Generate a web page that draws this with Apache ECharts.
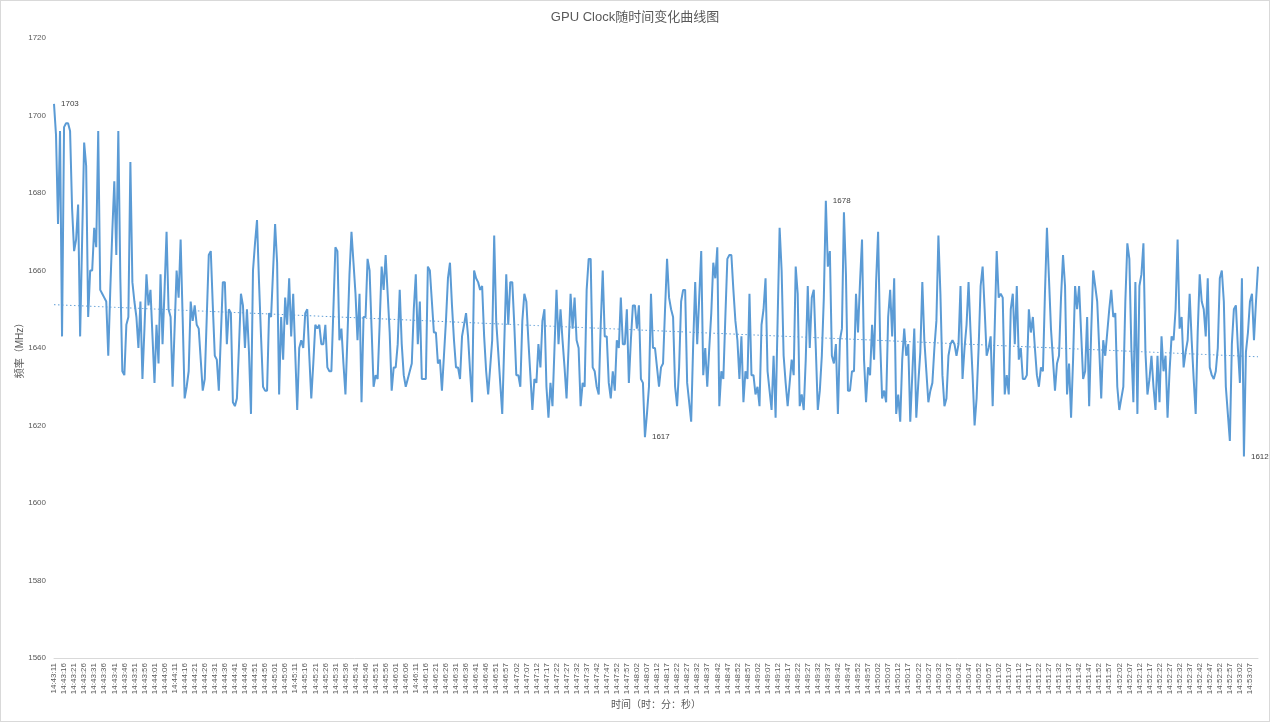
<!DOCTYPE html>
<html>
<head>
<meta charset="utf-8">
<script src="https://cdn.jsdelivr.net/npm/echarts@6/dist/echarts.min.js"></script>
<style>
html,body{margin:0;padding:0;background:#fff;}
#chart{width:1270px;height:722px;outline:1px solid #d9d9d9;outline-offset:-1px;}
</style>
</head>
<body>
<div id="chart"></div>
<script>
// ---- data ----
const titleText = 'GPU Clock随时间变化曲线图';
const yAxisName = '频率（MHz）';
const xAxisName = '时间（时：分：秒）';
const startTime = '14:43:11';
const skippedSecondAtIndex = 223; // one missing second in the log (14:46:54)
const pointCount = 600;
const yTicks = [1560, 1580, 1600, 1620, 1640, 1660, 1680, 1700, 1720];

const gpuClock = [
1703,1695,1672,1696,1643,1697,1698,1698,1696,1676,
1665,1668,1677,1643,1668,1693,1687,1648,1660,1660,
1671,1666,1696,1655,1654,1653,1652,1638,1655,1670,
1683,1664,1696,1658,1634,1633,1646,1648,1688,1657,
1652,1648,1640,1652,1632,1645,1659,1651,1655,1643,
1631,1646,1636,1659,1641,1655,1670,1650,1648,1630,
1645,1660,1653,1668,1648,1627,1630,1634,1652,1647,
1651,1646,1645,1637,1629,1632,1648,1664,1665,1651,
1638,1637,1629,1643,1657,1657,1641,1650,1649,1626,
1625,1627,1640,1654,1651,1640,1650,1639,1623,1660,
1667,1673,1657,1643,1630,1629,1629,1649,1648,1660,
1672,1662,1628,1648,1637,1653,1646,1658,1643,1654,
1639,1624,1640,1642,1640,1649,1650,1638,1627,1636,
1646,1645,1646,1641,1641,1646,1635,1634,1634,1650,
1666,1665,1642,1645,1636,1628,1643,1659,1670,1662,
1654,1642,1654,1626,1648,1648,1663,1660,1645,1630,
1633,1632,1646,1661,1655,1664,1654,1644,1629,1635,
1635,1641,1655,1641,1633,1630,1632,1634,1636,1650,
1659,1641,1652,1632,1632,1632,1661,1660,1652,1644,
1644,1636,1637,1629,1638,1647,1658,1662,1651,1642,
1635,1635,1632,1643,1646,1649,1643,1634,1626,1660,
1658,1657,1655,1656,1643,1634,1628,1635,1642,1669,
1647,1639,1631,1623,1641,1659,1646,1657,1657,1646,
1633,1633,1630,1647,1654,1652,1642,1633,1624,1632,
1631,1641,1635,1647,1650,1630,1622,1631,1625,1640,
1655,1641,1650,1642,1635,1627,1640,1654,1645,1653,
1642,1640,1625,1631,1630,1655,1663,1663,1635,1634,
1630,1628,1646,1660,1643,1643,1631,1627,1634,1629,
1642,1640,1653,1641,1641,1650,1631,1642,1651,1651,
1645,1651,1632,1631,1617,1623,1630,1654,1640,1640,
1635,1630,1635,1636,1650,1663,1653,1650,1648,1630,
1625,1635,1652,1655,1655,1631,1626,1621,1641,1657,
1641,1653,1665,1633,1640,1630,1640,1649,1662,1658,
1666,1625,1634,1632,1648,1663,1664,1664,1655,1647,
1642,1632,1643,1626,1634,1632,1654,1633,1633,1628,
1630,1625,1646,1650,1658,1634,1629,1624,1638,1622,
1647,1671,1660,1638,1631,1625,1631,1637,1633,1661,
1654,1625,1628,1624,1637,1656,1640,1653,1655,1640,
1624,1629,1638,1653,1678,1661,1665,1638,1636,1641,
1623,1642,1645,1675,1659,1629,1629,1634,1634,1654,
1644,1657,1668,1637,1626,1635,1633,1646,1637,1657,
1670,1642,1627,1629,1626,1648,1655,1643,1658,1623,
1628,1621,1637,1645,1638,1641,1621,1633,1645,1622,
1631,1639,1657,1642,1634,1626,1629,1631,1640,1647,
1669,1654,1633,1625,1627,1638,1641,1642,1641,1638,
1641,1656,1632,1640,1646,1657,1644,1633,1620,1627,
1640,1656,1661,1650,1638,1640,1643,1625,1645,1665,
1653,1654,1653,1628,1633,1628,1650,1654,1641,1656,
1637,1640,1632,1632,1633,1650,1644,1648,1640,1633,
1630,1635,1634,1654,1671,1658,1645,1637,1629,1636,
1638,1653,1664,1656,1628,1636,1622,1637,1656,1650,
1656,1644,1632,1634,1648,1625,1644,1660,1656,1652,
1640,1627,1642,1638,1644,1650,1655,1648,1649,1630,
1624,1627,1630,1652,1667,1663,1640,1626,1657,1623,
1656,1659,1667,1639,1628,1632,1638,1630,1624,1638,
1626,1643,1634,1638,1622,1634,1643,1642,1650,1668,
1645,1648,1635,1639,1642,1654,1642,1632,1623,1644,
1659,1652,1650,1643,1658,1635,1633,1632,1634,1640,
1658,1660,1652,1630,1623,1616,1641,1650,1651,1640,
1631,1658,1612,1639,1644,1652,1654,1642,1652,1661
];
const labeledIndices = [0, 294, 384, 592]; // points with data labels

// ---- categories (one per logged second) ----
function buildTimes() {
  const p = startTime.split(':').map(Number);
  let s = p[0] * 3600 + p[1] * 60 + p[2];
  const out = [];
  for (let i = 0; i < pointCount; i++) {
    if (i === skippedSecondAtIndex) s += 1;
    const h = Math.floor(s / 3600), m = Math.floor((s % 3600) / 60), sec = s % 60;
    out.push(h + ':' + String(m).padStart(2, '0') + ':' + String(sec).padStart(2, '0'));
    s += 1;
  }
  return out;
}
const times = buildTimes();

// linear trendline (least squares over the series)
function trend(vals) {
  const n = vals.length;
  let sx = 0, sy = 0, sxy = 0, sxx = 0;
  vals.forEach((v, i) => { sx += i; sy += v; sxy += i * v; sxx += i * i; });
  const b = (n * sxy - sx * sy) / (n * sxx - sx * sx);
  const a = (sy - b * sx) / n;
  return vals.map((v, i) => +(a + b * i).toFixed(3));
}
const trendVals = trend(gpuClock);

const font = "'Liberation Sans','Noto Sans CJK SC',sans-serif";

const chart = echarts.init(document.getElementById('chart'));
chart.setOption({
  animation: false,
  title: {
    text: titleText,
    left: 'center',
    top: 6,
    textStyle: { fontSize: 13, fontWeight: 'normal', color: '#595959', fontFamily: font }
  },
  grid: { left: 54, right: 12, top: 38, bottom: 64, containLabel: false },
  xAxis: {
    type: 'category',
    data: times,
    boundaryGap: false,
    name: xAxisName,
    nameLocation: 'middle',
    nameGap: 42,
    nameMoveOverlap: false,
    nameTextStyle: { fontSize: 10, color: '#595959', fontFamily: font },
    axisLine: { lineStyle: { color: '#d9d9d9', width: 1 } },
    axisTick: { show: false },
    axisLabel: { interval: 4, rotate: 90, fontSize: 8, color: '#595959', margin: 5, fontFamily: font }
  },
  yAxis: {
    type: 'value',
    min: yTicks[0],
    max: yTicks[yTicks.length - 1],
    interval: yTicks[1] - yTicks[0],
    name: yAxisName,
    nameLocation: 'middle',
    nameGap: 29,
    nameMoveOverlap: false,
    nameTextStyle: { fontSize: 10, color: '#595959', fontFamily: font },
    axisLine: { show: false },
    axisTick: { show: false },
    splitLine: { show: false },
    axisLabel: { fontSize: 8, color: '#595959', margin: 8, fontFamily: font, formatter: v => String(v) }
  },
  series: [
    {
      type: 'line',
      data: gpuClock,
      symbol: 'none',
      showSymbol: false,
      lineStyle: { color: '#5B9BD5', width: 2 },
      itemStyle: { color: '#5B9BD5' },
      markPoint: {
        symbol: 'circle',
        symbolSize: 0,
        silent: true,
        label: { show: true, position: 'right', distance: 7, fontSize: 8, color: '#404040', fontFamily: font, formatter: '{c}' },
        data: labeledIndices.map(i => ({ coord: [i, gpuClock[i]], value: gpuClock[i] }))
      },
      z: 3
    },
    {
      type: 'line',
      data: trendVals,
      showSymbol: false,
      symbol: 'none',
      silent: true,
      lineStyle: { color: '#5B9BD5', width: 1, type: [1.5, 2.5] },
      z: 2
    }
  ]
});
</script>
</body>
</html>
